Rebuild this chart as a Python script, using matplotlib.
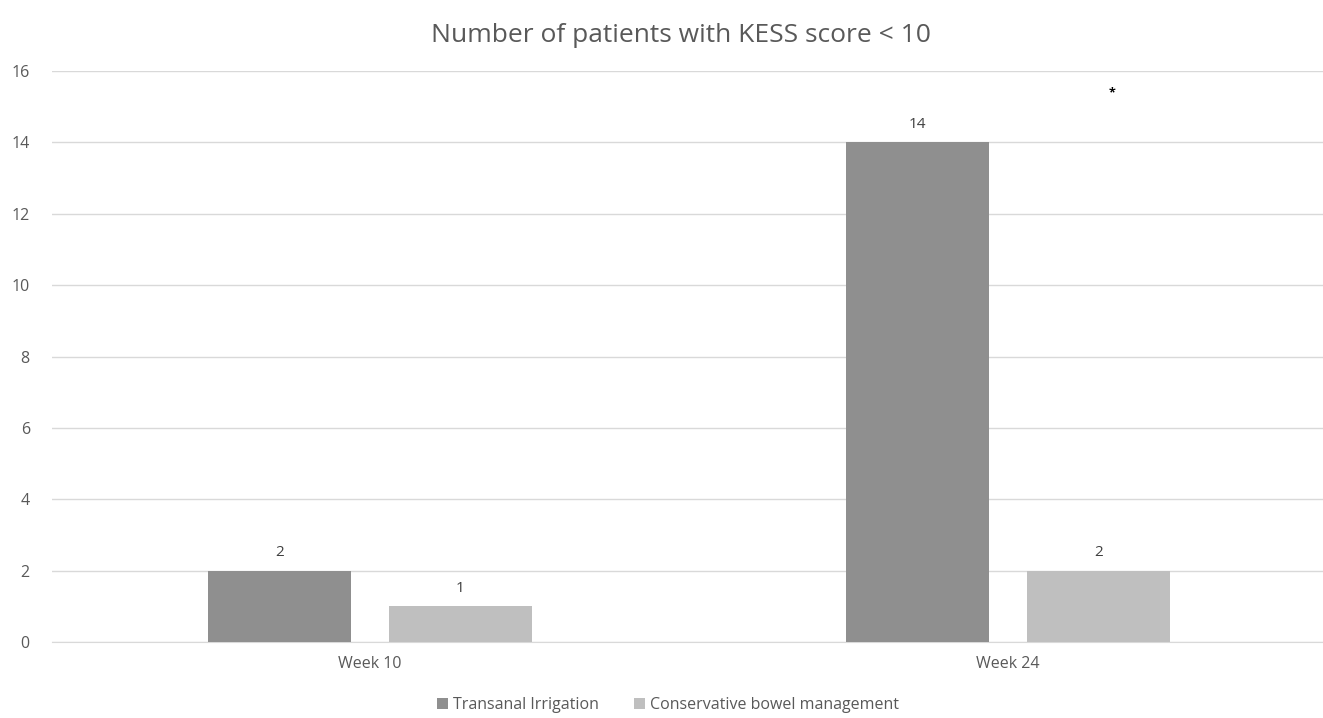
import numpy as np
import matplotlib.pyplot as plt

plt.rcParams['font.family'] = ['Open Sans', 'DejaVu Sans']

categories = ['Week 10', 'Week 24']
irrigation = [2, 14]
conservative = [1, 2]
series_names = ['Transanal Irrigation', 'Conservative bowel management']
y_ticks = [0, 2, 4, 6, 8, 10, 12, 14, 16]

dark = '#8f8f8f'
light = '#bfbfbf'
text_col = '#595959'

fig = plt.figure(figsize=(13.23, 7.18), dpi=100)
ax = fig.add_axes([0.0393, 0.1058, 0.9607, 0.7953])

x = np.arange(len(categories))
w = 0.224
off = 0.142
b1 = ax.bar(x - off, irrigation, w, color=dark, label=series_names[0], zorder=3)
b2 = ax.bar(x + off, conservative, w, color=light, label=series_names[1], zorder=3)

for bars, vals in ((b1, irrigation), (b2, conservative)):
    for r, v in zip(bars, vals):
        ax.text(r.get_x() + r.get_width() / 2, v + 0.3, str(v), ha='center',
                va='bottom', fontsize=11, color='#404040')

# significance marker
ax.text(x[1] + 0.163, 15.2, '*', ha='center', va='bottom', fontsize=9,
        fontweight='bold', color='black')

ax.set_xlim(-0.498, 1.494)
ax.set_ylim(0, 16)
ax.set_yticks(y_ticks)
ax.set_xticks(x)
ax.set_xticklabels(categories)
ax.yaxis.grid(True, color='#d9d9d9', linewidth=1, zorder=0)
ax.tick_params(axis='both', length=0, labelsize=11.5, colors=text_col)
ax.tick_params(axis='y', pad=16)
ax.tick_params(axis='x', pad=10)
for s in ['top', 'right', 'left']:
    ax.spines[s].set_visible(False)
ax.spines['bottom'].set_color('#d9d9d9')

fig.text(0.515, 0.951, 'Number of patients with KESS score < 10', ha='center', va='center',
         fontsize=19, color=text_col)

fig.legend(handles=[b1, b2], loc='center', bbox_to_anchor=(0.505, 0.018), ncol=2,
           frameon=False, fontsize=11.5, labelcolor=text_col, handlelength=0.7,
           handleheight=0.7, handletextpad=0.3, columnspacing=2.2)

fig.savefig('out.png', dpi=100)
